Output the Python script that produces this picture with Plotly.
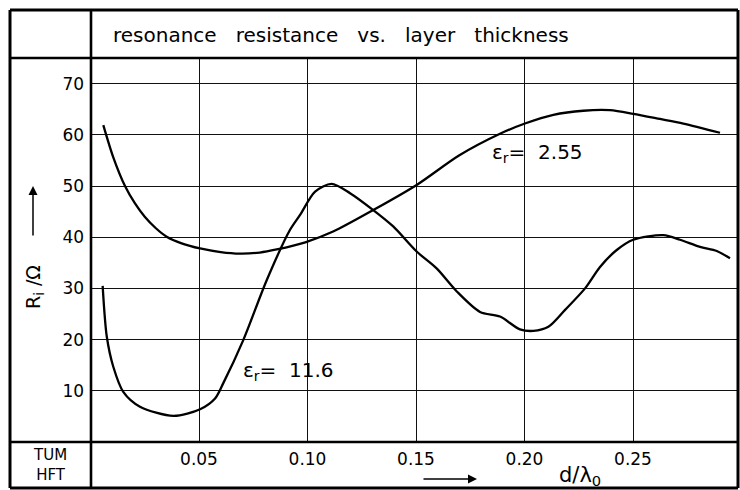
import plotly.graph_objects as go

# ---- data ----
x_er255 = [0.0059, 0.0105, 0.0159, 0.0205, 0.0250, 0.0300, 0.0351, 0.0420, 0.0505,
           0.0600, 0.0689, 0.0780, 0.0858, 0.0990,
           0.1118, 0.1303, 0.1503, 0.1700, 0.1887, 0.2002, 0.2133, 0.2271, 0.2394,
           0.2501, 0.2624, 0.2732, 0.2901]
y_er255 = [61.9, 55.6, 50.0, 46.6, 44.0, 41.8, 40.1, 38.8, 37.8,
           37.1, 36.8, 37.0, 37.6, 39.0,
           41.1, 45.3, 50.2, 56.0, 60.2, 62.2, 63.9, 64.7, 64.8,
           64.1, 63.1, 62.2, 60.4]

x_er116 = [0.0056, 0.0075, 0.0105, 0.0151, 0.0228, 0.0382, 0.0505, 0.0574, 0.0612,
           0.0704, 0.0812, 0.0919, 0.0965, 0.1035, 0.1111, 0.1196, 0.1303, 0.1395,
           0.1503, 0.1595, 0.1688, 0.1795, 0.1887, 0.1979, 0.2041, 0.2110, 0.2187,
           0.2279, 0.2348, 0.2425, 0.2501, 0.2640, 0.2717, 0.2809, 0.2886, 0.2947]
y_er116 = [30.5, 20.6, 14.7, 9.8, 6.9, 5.1, 6.4, 8.5, 11.5,
           19.9, 31.6, 41.4, 44.3, 48.9, 50.4, 48.6, 45.3, 42.1,
           37.2, 33.9, 29.4, 25.4, 24.5, 22.0, 21.7, 22.5, 25.8,
           30.0, 34.2, 37.5, 39.5, 40.4, 39.5, 38.1, 37.3, 35.9]

x_ticks = [0.05, 0.10, 0.15, 0.20, 0.25]
x_ticklabels = ["0.05", "0.10", "0.15", "0.20", "0.25"]
y_ticks = [10, 20, 30, 40, 50, 60, 70]
y_ticklabels = ["10", "20", "30", "40", "50", "60", "70"]

title_text = "resonance\u00a0\u00a0 resistance\u00a0\u00a0 vs.\u00a0\u00a0 layer\u00a0\u00a0 thickness"

W, H = 740, 490
FONT = "DejaVu Sans"


def px(x):
    return x / W


def py(y):
    return 1 - y / H


fig = go.Figure()
line_style = dict(color="black", width=2.3, shape="spline", smoothing=0.8)
fig.add_trace(go.Scatter(x=x_er255, y=y_er255, mode="lines", line=line_style,
                         showlegend=False, hoverinfo="skip"))
fig.add_trace(go.Scatter(x=x_er116, y=y_er116, mode="lines", line=line_style,
                         showlegend=False, hoverinfo="skip"))

fig.update_layout(
    width=W, height=H,
    margin=dict(l=0, r=0, t=0, b=0),
    paper_bgcolor="white", plot_bgcolor="white",
    font=dict(family=FONT, color="black"),
    xaxis=dict(domain=[px(90.5), px(738)], range=[0, 647.5 / 2170],
               tickvals=x_ticks, ticktext=x_ticklabels,
               showgrid=True, gridcolor="#111", gridwidth=1,
               zeroline=False, showline=False,
               ticks="outside", ticklen=2, tickcolor="rgba(0,0,0,0)",
               tickfont=dict(size=17, family=FONT, color="black")),
    yaxis=dict(domain=[py(442), py(58)], range=[0, 75],
               tickvals=y_ticks, ticktext=y_ticklabels,
               showgrid=True, gridcolor="#111", gridwidth=1,
               zeroline=False, showline=False,
               ticks="outside", ticklen=2, tickcolor="rgba(0,0,0,0)",
               tickfont=dict(size=17, family=FONT, color="black")),
)

# frame / table lines
shapes = []
def seg(x0, y0, x1, y1, w=2.6):
    shapes.append(dict(type="line", xref="paper", yref="paper",
                       x0=px(x0), y0=py(y0), x1=px(x1), y1=py(y1),
                       line=dict(color="black", width=w)))

seg(10, 10, 738, 10, 3)
seg(10, 488, 738, 488, 3)
seg(10, 10, 10, 488, 3)
seg(738, 10, 738, 488, 3)
seg(10, 58, 738, 58, 2.6)
seg(10, 442, 738, 442, 2.6)
seg(91, 10, 91, 488, 2.6)
fig.update_layout(shapes=shapes)

ann = []
ann.append(dict(xref="paper", yref="paper", x=px(341), y=py(35), text=title_text,
                showarrow=False, xanchor="center", yanchor="middle",
                font=dict(size=20, family=FONT)))
ann.append(dict(xref="paper", yref="paper", x=px(34), y=py(287), text="R<sub>i</sub> /Ω",
                textangle=-90, showarrow=False, xanchor="center", yanchor="middle",
                font=dict(size=19, family=FONT)))
# y arrow
ann.append(dict(xref="paper", yref="paper", x=px(33), y=py(186), text="",
                showarrow=True, ax=0, ay=51, arrowhead=2, arrowsize=1.2,
                arrowwidth=1.5, arrowcolor="black"))
# x arrow
ann.append(dict(xref="paper", yref="paper", x=px(477), y=py(479), text="",
                showarrow=True, ax=-55, ay=0, arrowhead=2, arrowsize=1.2,
                arrowwidth=1.5, arrowcolor="black"))
ann.append(dict(xref="paper", yref="paper", x=px(580), y=py(476), text="d/λ<sub>0</sub>",
                showarrow=False, xanchor="center", yanchor="middle",
                font=dict(size=21, family=FONT)))
ann.append(dict(xref="paper", yref="paper", x=px(50), y=py(465), text="TUM<br>HFT",
                showarrow=False, xanchor="center", yanchor="middle",
                font=dict(size=15, family=FONT)))
# curve labels
ann.append(dict(xref="x", yref="y", x=0.1841, y=56.4, text="ε<sub>r</sub>=\u00a0 2.55",
                showarrow=False, xanchor="left", yanchor="middle",
                font=dict(size=20, family=FONT)))
ann.append(dict(xref="x", yref="y", x=0.0694, y=13.9, text="ε<sub>r</sub>=\u00a0 11.6",
                showarrow=False, xanchor="left", yanchor="middle",
                font=dict(size=20, family=FONT)))
fig.update_layout(annotations=ann)

fig.write_html("out.html",
               config={"displayModeBar": False},
               post_script="document.body.style.margin='0px'; document.body.style.overflow='hidden';")
